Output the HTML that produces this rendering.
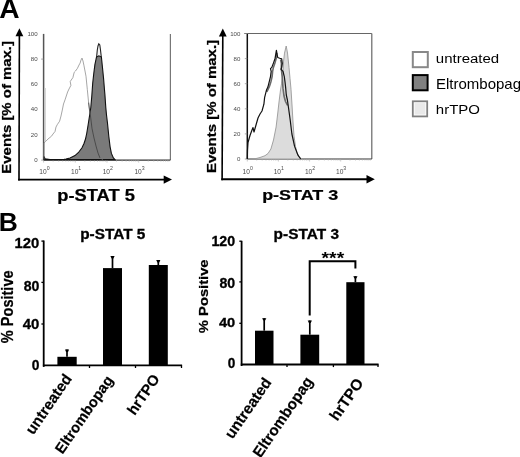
<!DOCTYPE html>
<html><head><meta charset="utf-8"><style>
html,body{margin:0;padding:0;background:#fff;}
svg{display:block;filter:blur(0.35px);}
</style></head><body>
<svg width="520" height="457" viewBox="0 0 520 457" font-family="Liberation Sans, Arial, sans-serif">
<rect width="520" height="457" fill="#fff"/>
<text transform="translate(-0.65 18.47) scale(1.0529 1)" font-size="26.76" font-weight="bold" fill="#000">A</text>
<text transform="translate(-1.15 230.60) scale(0.9952 1)" font-size="26.52" font-weight="bold" fill="#000">B</text>
<line x1="19.0" y1="180.5" x2="19.4" y2="34.2" stroke="#000" stroke-width="1.6"/>
<polygon points="15.499999999999998,36.2 19.4,28.2 23.299999999999997,36.2" fill="#000"/>
<line x1="18.1" y1="179.6" x2="166.0" y2="179.6" stroke="#000" stroke-width="1.9"/>
<polygon points="163.7,175.4 172.0,179.6 163.7,183.79999999999998" fill="#000"/>
<line x1="222.1" y1="180.20000000000002" x2="222.8" y2="34.5" stroke="#000" stroke-width="1.6"/>
<polygon points="218.9,36.5 222.8,28.5 226.70000000000002,36.5" fill="#000"/>
<line x1="221.3" y1="179.3" x2="368.8" y2="179.3" stroke="#000" stroke-width="1.9"/>
<polygon points="366.5,175.10000000000002 374.8,179.3 366.5,183.5" fill="#000"/>
<text transform="translate(11.14 173.64) rotate(-90) scale(1.1786 1)" font-size="12.66" font-weight="bold" fill="#000" stroke="#000" stroke-width="0.25">Events [% of max.]</text>
<text transform="translate(215.62 173.05) rotate(-90) scale(1.1741 1)" font-size="12.77" font-weight="bold" fill="#000" stroke="#000" stroke-width="0.25">Events [% of max.]</text>
<line x1="43.6" y1="33.9" x2="43.6" y2="160.1" stroke="#555" stroke-width="1.5"/>
<line x1="170.4" y1="33.9" x2="170.4" y2="160.1" stroke="#777" stroke-width="1.2"/>
<line x1="43.6" y1="160.1" x2="170.4" y2="160.1" stroke="#333" stroke-width="1.2"/>
<line x1="41.1" y1="160.1" x2="43.6" y2="160.1" stroke="#888" stroke-width="0.7"/>
<line x1="41.1" y1="59.1" x2="43.6" y2="59.1" stroke="#888" stroke-width="0.7"/>
<line x1="43.6" y1="160.1" x2="43.6" y2="162.6" stroke="#aaa" stroke-width="0.6"/>
<line x1="53.1" y1="160.1" x2="53.1" y2="161.6" stroke="#aaa" stroke-width="0.6"/>
<line x1="58.7" y1="160.1" x2="58.7" y2="161.6" stroke="#aaa" stroke-width="0.6"/>
<line x1="62.7" y1="160.1" x2="62.7" y2="161.6" stroke="#aaa" stroke-width="0.6"/>
<line x1="65.8" y1="160.1" x2="65.8" y2="161.6" stroke="#aaa" stroke-width="0.6"/>
<line x1="68.3" y1="160.1" x2="68.3" y2="161.6" stroke="#aaa" stroke-width="0.6"/>
<line x1="70.4" y1="160.1" x2="70.4" y2="161.6" stroke="#aaa" stroke-width="0.6"/>
<line x1="72.2" y1="160.1" x2="72.2" y2="161.6" stroke="#aaa" stroke-width="0.6"/>
<line x1="73.8" y1="160.1" x2="73.8" y2="161.6" stroke="#aaa" stroke-width="0.6"/>
<line x1="75.3" y1="160.1" x2="75.3" y2="162.6" stroke="#aaa" stroke-width="0.6"/>
<line x1="84.8" y1="160.1" x2="84.8" y2="161.6" stroke="#aaa" stroke-width="0.6"/>
<line x1="90.4" y1="160.1" x2="90.4" y2="161.6" stroke="#aaa" stroke-width="0.6"/>
<line x1="94.4" y1="160.1" x2="94.4" y2="161.6" stroke="#aaa" stroke-width="0.6"/>
<line x1="97.5" y1="160.1" x2="97.5" y2="161.6" stroke="#aaa" stroke-width="0.6"/>
<line x1="100.0" y1="160.1" x2="100.0" y2="161.6" stroke="#aaa" stroke-width="0.6"/>
<line x1="102.1" y1="160.1" x2="102.1" y2="161.6" stroke="#aaa" stroke-width="0.6"/>
<line x1="103.9" y1="160.1" x2="103.9" y2="161.6" stroke="#aaa" stroke-width="0.6"/>
<line x1="105.5" y1="160.1" x2="105.5" y2="161.6" stroke="#aaa" stroke-width="0.6"/>
<line x1="107.0" y1="160.1" x2="107.0" y2="162.6" stroke="#aaa" stroke-width="0.6"/>
<line x1="116.5" y1="160.1" x2="116.5" y2="161.6" stroke="#aaa" stroke-width="0.6"/>
<line x1="122.1" y1="160.1" x2="122.1" y2="161.6" stroke="#aaa" stroke-width="0.6"/>
<line x1="126.1" y1="160.1" x2="126.1" y2="161.6" stroke="#aaa" stroke-width="0.6"/>
<line x1="129.2" y1="160.1" x2="129.2" y2="161.6" stroke="#aaa" stroke-width="0.6"/>
<line x1="131.7" y1="160.1" x2="131.7" y2="161.6" stroke="#aaa" stroke-width="0.6"/>
<line x1="133.8" y1="160.1" x2="133.8" y2="161.6" stroke="#aaa" stroke-width="0.6"/>
<line x1="135.6" y1="160.1" x2="135.6" y2="161.6" stroke="#aaa" stroke-width="0.6"/>
<line x1="137.2" y1="160.1" x2="137.2" y2="161.6" stroke="#aaa" stroke-width="0.6"/>
<line x1="138.7" y1="160.1" x2="138.7" y2="162.6" stroke="#aaa" stroke-width="0.6"/>
<line x1="148.2" y1="160.1" x2="148.2" y2="161.6" stroke="#aaa" stroke-width="0.6"/>
<line x1="153.8" y1="160.1" x2="153.8" y2="161.6" stroke="#aaa" stroke-width="0.6"/>
<line x1="157.8" y1="160.1" x2="157.8" y2="161.6" stroke="#aaa" stroke-width="0.6"/>
<line x1="160.9" y1="160.1" x2="160.9" y2="161.6" stroke="#aaa" stroke-width="0.6"/>
<line x1="163.4" y1="160.1" x2="163.4" y2="161.6" stroke="#aaa" stroke-width="0.6"/>
<line x1="165.5" y1="160.1" x2="165.5" y2="161.6" stroke="#aaa" stroke-width="0.6"/>
<line x1="167.3" y1="160.1" x2="167.3" y2="161.6" stroke="#aaa" stroke-width="0.6"/>
<line x1="168.9" y1="160.1" x2="168.9" y2="161.6" stroke="#aaa" stroke-width="0.6"/>
<line x1="45.1" y1="88" x2="45.1" y2="141" stroke="#c8c8c8" stroke-width="1.3"/>
<path d="M96.5,58 L97.3,50 L98,46 L98.8,43.8 L99.8,45 L100.5,50 L101.4,58 Z" fill="#f4f4f4" stroke="#222" stroke-width="1.1"/>
<path d="M44,159.6 L44,156.5 L45,158.8 L50,159.6 L60,159.6 L64,159.4 L66,159 L70,158 L75,155.6 L78.5,152.5 L82,147.8 L84,143.5 L85.5,139 L86.8,133 L88.1,125 L89.5,116 L90.8,107.5 L91.8,96 L92.7,83.2 L93.8,73.3 L94.9,64.6 L96.5,57 L98.9,55.8 L101.4,57 L102.5,67.8 L103.6,78.8 L104.5,90 L104.9,94.5 L105.8,107.6 L106.5,115 L107.5,123.2 L108.8,136.3 L110.1,146.8 L111.4,153.4 L113.4,158 L115,159.6 Z" fill="#7a7a7a" stroke="#111" stroke-width="1.1"/>
<path d="M44,159.5 L44,143 L45.8,141.3 L48,139 L51.5,136.2 L53,134 L55,131.5 L56,127 L57.3,124.6 L59.6,121.2 L61,116 L62.3,110 L63.5,104 L65,99.9 L67.6,92 L69,89 L70.9,85.4 L70.2,81.5 L72.9,77.6 L74.2,72.3 L75.5,71 L77.4,68.4 L79,65 L80.1,63.1 L81,60 L82,58.1 L83,61 L84,65.8 L86,76.3 L87.3,89.4 L88.6,102.5 L89.5,110 L90.5,116 L92,128.5 L94,138 L96,146 L98,153 L100,158 L103,159.5" fill="none" stroke="#808080" stroke-width="0.7"/>
<path d="M88.6,102.5 L89.5,110 L90.5,116 L92,128.5 L94,138 L96,146 L98,153 L100,158" fill="none" stroke="#333" stroke-width="0.7"/>
<text x="37.6" y="161.9" font-size="6.1" text-anchor="end" fill="#4a4a4a">0</text>
<text x="37.6" y="136.7" font-size="6.1" text-anchor="end" fill="#4a4a4a">20</text>
<text x="37.6" y="111.4" font-size="6.1" text-anchor="end" fill="#4a4a4a">40</text>
<text x="37.6" y="86.2" font-size="6.1" text-anchor="end" fill="#4a4a4a">60</text>
<text x="37.6" y="60.9" font-size="6.1" text-anchor="end" fill="#4a4a4a">80</text>
<text x="37.6" y="35.7" font-size="6.1" text-anchor="end" fill="#4a4a4a">100</text>
<text x="39.3" y="173.8" font-size="6.6" fill="#4a4a4a">10<tspan dy="-3.9" font-size="5.2">0</tspan></text>
<text x="71.0" y="173.8" font-size="6.6" fill="#4a4a4a">10<tspan dy="-3.9" font-size="5.2">1</tspan></text>
<text x="102.7" y="173.8" font-size="6.6" fill="#4a4a4a">10<tspan dy="-3.9" font-size="5.2">2</tspan></text>
<text x="134.4" y="173.8" font-size="6.6" fill="#4a4a4a">10<tspan dy="-3.9" font-size="5.2">3</tspan></text>
<text transform="translate(57.32 200.67) scale(1.0890 1)" font-size="16.81" font-weight="bold" fill="#000" stroke="#000" stroke-width="0.25">p-STAT 5</text>
<line x1="247.3" y1="33.5" x2="247.3" y2="159.0" stroke="#111" stroke-width="1.5"/>
<line x1="371.8" y1="33.5" x2="371.8" y2="159.0" stroke="#666" stroke-width="1.2"/>
<line x1="247.3" y1="159.0" x2="371.8" y2="159.0" stroke="#333" stroke-width="1.2"/>
<line x1="244.3" y1="33.5" x2="371.8" y2="33.5" stroke="#666" stroke-width="1.2"/>
<line x1="244.8" y1="159.0" x2="247.3" y2="159.0" stroke="#888" stroke-width="0.7"/>
<line x1="244.8" y1="133.9" x2="247.3" y2="133.9" stroke="#888" stroke-width="0.7"/>
<line x1="244.8" y1="108.8" x2="247.3" y2="108.8" stroke="#888" stroke-width="0.7"/>
<line x1="244.8" y1="83.7" x2="247.3" y2="83.7" stroke="#888" stroke-width="0.7"/>
<line x1="244.8" y1="58.6" x2="247.3" y2="58.6" stroke="#888" stroke-width="0.7"/>
<line x1="244.8" y1="33.5" x2="247.3" y2="33.5" stroke="#888" stroke-width="0.7"/>
<line x1="247.3" y1="159.0" x2="247.3" y2="161.5" stroke="#aaa" stroke-width="0.6"/>
<line x1="256.7" y1="159.0" x2="256.7" y2="160.5" stroke="#aaa" stroke-width="0.6"/>
<line x1="262.2" y1="159.0" x2="262.2" y2="160.5" stroke="#aaa" stroke-width="0.6"/>
<line x1="266.0" y1="159.0" x2="266.0" y2="160.5" stroke="#aaa" stroke-width="0.6"/>
<line x1="269.1" y1="159.0" x2="269.1" y2="160.5" stroke="#aaa" stroke-width="0.6"/>
<line x1="271.5" y1="159.0" x2="271.5" y2="160.5" stroke="#aaa" stroke-width="0.6"/>
<line x1="273.6" y1="159.0" x2="273.6" y2="160.5" stroke="#aaa" stroke-width="0.6"/>
<line x1="275.4" y1="159.0" x2="275.4" y2="160.5" stroke="#aaa" stroke-width="0.6"/>
<line x1="277.0" y1="159.0" x2="277.0" y2="160.5" stroke="#aaa" stroke-width="0.6"/>
<line x1="278.4" y1="159.0" x2="278.4" y2="161.5" stroke="#aaa" stroke-width="0.6"/>
<line x1="287.8" y1="159.0" x2="287.8" y2="160.5" stroke="#aaa" stroke-width="0.6"/>
<line x1="293.3" y1="159.0" x2="293.3" y2="160.5" stroke="#aaa" stroke-width="0.6"/>
<line x1="297.2" y1="159.0" x2="297.2" y2="160.5" stroke="#aaa" stroke-width="0.6"/>
<line x1="300.2" y1="159.0" x2="300.2" y2="160.5" stroke="#aaa" stroke-width="0.6"/>
<line x1="302.6" y1="159.0" x2="302.6" y2="160.5" stroke="#aaa" stroke-width="0.6"/>
<line x1="304.7" y1="159.0" x2="304.7" y2="160.5" stroke="#aaa" stroke-width="0.6"/>
<line x1="306.5" y1="159.0" x2="306.5" y2="160.5" stroke="#aaa" stroke-width="0.6"/>
<line x1="308.1" y1="159.0" x2="308.1" y2="160.5" stroke="#aaa" stroke-width="0.6"/>
<line x1="309.6" y1="159.0" x2="309.6" y2="161.5" stroke="#aaa" stroke-width="0.6"/>
<line x1="318.9" y1="159.0" x2="318.9" y2="160.5" stroke="#aaa" stroke-width="0.6"/>
<line x1="324.4" y1="159.0" x2="324.4" y2="160.5" stroke="#aaa" stroke-width="0.6"/>
<line x1="328.3" y1="159.0" x2="328.3" y2="160.5" stroke="#aaa" stroke-width="0.6"/>
<line x1="331.3" y1="159.0" x2="331.3" y2="160.5" stroke="#aaa" stroke-width="0.6"/>
<line x1="333.8" y1="159.0" x2="333.8" y2="160.5" stroke="#aaa" stroke-width="0.6"/>
<line x1="335.9" y1="159.0" x2="335.9" y2="160.5" stroke="#aaa" stroke-width="0.6"/>
<line x1="337.7" y1="159.0" x2="337.7" y2="160.5" stroke="#aaa" stroke-width="0.6"/>
<line x1="339.3" y1="159.0" x2="339.3" y2="160.5" stroke="#aaa" stroke-width="0.6"/>
<line x1="340.7" y1="159.0" x2="340.7" y2="161.5" stroke="#aaa" stroke-width="0.6"/>
<line x1="350.0" y1="159.0" x2="350.0" y2="160.5" stroke="#aaa" stroke-width="0.6"/>
<line x1="355.5" y1="159.0" x2="355.5" y2="160.5" stroke="#aaa" stroke-width="0.6"/>
<line x1="359.4" y1="159.0" x2="359.4" y2="160.5" stroke="#aaa" stroke-width="0.6"/>
<line x1="362.4" y1="159.0" x2="362.4" y2="160.5" stroke="#aaa" stroke-width="0.6"/>
<line x1="364.9" y1="159.0" x2="364.9" y2="160.5" stroke="#aaa" stroke-width="0.6"/>
<line x1="367.0" y1="159.0" x2="367.0" y2="160.5" stroke="#aaa" stroke-width="0.6"/>
<line x1="368.8" y1="159.0" x2="368.8" y2="160.5" stroke="#aaa" stroke-width="0.6"/>
<line x1="370.4" y1="159.0" x2="370.4" y2="160.5" stroke="#aaa" stroke-width="0.6"/>
<path d="M250,159 L255,158.8 L260,157.5 L265,155.7 L268,153.5 L270.9,149 L273.5,140 L276.1,127 L277.9,112 L279,102 L280.5,90 L281.5,83.8 L283,72.8 L283.5,61.9 L284.5,53.1 L286.2,46 L287.5,53 L289,67.4 L290,78.3 L291,89.2 L292,105 L293,122 L294,136 L295.5,146.4 L297,153 L299,157 L302,159 Z" fill="#dcdcdc" stroke="#999" stroke-width="0.9"/>
<path d="M266.8,92 L268.3,89 L269.6,86 L270.9,81.8 L272.1,76.6 L272.6,71.3 L273.4,67.4 L275.1,62.4 L276.2,58.5 L276.8,53 M280.6,59.5 L281.4,63.4 L281.3,68.5 L282.3,77.9 L283,88.4 L284,96 L285.5,101.5 L287.6,105.5" fill="none" stroke="#6a6a6a" stroke-width="1.6" stroke-linejoin="round"/>
<path d="M247.3,159 L247.5,150 L248,142.5 L250,135.5 L252,130 L253,127.6 L254,132 L256,125 L258,118 L260,114 L262,111 L263.9,104.2 L264.6,97.6 L265.9,92.4 L266.6,89.7 L267.9,87.1 L269.2,81.8 L270.5,76.6 L271.2,71.3 L270.5,68.7 L271.8,67.4 L273.8,62.1 L275.1,58.2 L276.4,50.3 L277.7,57.5 L279.7,58.2 L281.7,58.8 L282.3,63.4 L281.7,67.4 L281,69.3 L283,71.3 L284.3,76.6 L285,81.8 L285.6,87.1 L286.3,95 L287.4,100 L288.4,107 L290.2,120 L291.9,134 L294.6,146.4 L298,155.2 L300.7,159" fill="none" stroke="#111" stroke-width="1.2" stroke-linejoin="round"/>
<text x="240.3" y="161.4" font-size="6.1" text-anchor="end" fill="#4a4a4a">0</text>
<text x="240.3" y="136.3" font-size="6.1" text-anchor="end" fill="#4a4a4a">20</text>
<text x="240.3" y="111.2" font-size="6.1" text-anchor="end" fill="#4a4a4a">40</text>
<text x="240.3" y="86.1" font-size="6.1" text-anchor="end" fill="#4a4a4a">60</text>
<text x="240.3" y="61.0" font-size="6.1" text-anchor="end" fill="#4a4a4a">80</text>
<text x="240.3" y="35.9" font-size="6.1" text-anchor="end" fill="#4a4a4a">100</text>
<text x="242.6" y="173.7" font-size="6.6" fill="#4a4a4a">10<tspan dy="-3.9" font-size="5.2">0</tspan></text>
<text x="273.7" y="173.7" font-size="6.6" fill="#4a4a4a">10<tspan dy="-3.9" font-size="5.2">1</tspan></text>
<text x="304.9" y="173.7" font-size="6.6" fill="#4a4a4a">10<tspan dy="-3.9" font-size="5.2">2</tspan></text>
<text x="336.0" y="173.7" font-size="6.6" fill="#4a4a4a">10<tspan dy="-3.9" font-size="5.2">3</tspan></text>
<text transform="translate(262.14 200.14) scale(1.1934 1)" font-size="15.05" font-weight="bold" fill="#000" stroke="#000" stroke-width="0.25">p-STAT 3</text>
<rect x="412.8" y="52" width="15" height="15.2" fill="#fff" stroke="#888" stroke-width="2"/>
<rect x="412.8" y="75.1" width="14.8" height="15.2" fill="#808080" stroke="#000" stroke-width="2"/>
<rect x="412.8" y="101.3" width="14.4" height="15.1" fill="#fff" stroke="#808080" stroke-width="1.8"/><rect x="414.6" y="103.1" width="10.8" height="11.5" fill="#e9e9e9"/>
<text transform="translate(435.85 62.88) scale(1.2188 1)" font-size="12.30" font-weight="normal" fill="#000">untreated</text>
<text transform="translate(435.85 114.36) scale(1.0977 1)" font-size="13.65" font-weight="normal" fill="#000">hrTPO</text>
<text transform="translate(435.9 88.9) scale(1.058 1)" font-size="14.2" fill="#000">Eltrombopag</text>
<line x1="43.7" y1="240.5" x2="43.7" y2="366.9" stroke="#000" stroke-width="1.8"/>
<line x1="42.900000000000006" y1="365.4" x2="182.1" y2="365.4" stroke="#000" stroke-width="1.9"/>
<line x1="41.400000000000006" y1="241.1" x2="43.7" y2="241.1" stroke="#000" stroke-width="1.3"/>
<line x1="41.400000000000006" y1="282.4" x2="43.7" y2="282.4" stroke="#000" stroke-width="1.3"/>
<line x1="41.400000000000006" y1="324.0" x2="43.7" y2="324.0" stroke="#000" stroke-width="1.3"/>
<line x1="89.5" y1="365.4" x2="89.5" y2="368.0" stroke="#000" stroke-width="1.3"/>
<line x1="135.5" y1="365.4" x2="135.5" y2="368.0" stroke="#000" stroke-width="1.3"/>
<line x1="181.5" y1="365.4" x2="181.5" y2="368.0" stroke="#000" stroke-width="1.3"/>
<rect x="57.4" y="356.8" width="19.3" height="8.6" fill="#000"/>
<line x1="67.0" y1="356.8" x2="67.0" y2="349.5" stroke="#000" stroke-width="1.7"/>
<polygon points="65.0,349.5 69.1,349.5 68.0,351.9 66.1,351.9" fill="#000"/>
<rect x="103" y="268.1" width="19.0" height="97.3" fill="#000"/>
<line x1="112.5" y1="268.1" x2="112.5" y2="256.1" stroke="#000" stroke-width="1.7"/>
<polygon points="110.4,256.1 114.6,256.1 113.4,258.5 111.6,258.5" fill="#000"/>
<rect x="148.8" y="265.0" width="19.0" height="100.4" fill="#000"/>
<line x1="158.3" y1="265.0" x2="158.3" y2="260.1" stroke="#000" stroke-width="1.7"/>
<polygon points="156.2,260.1 160.4,260.1 159.2,262.5 157.4,262.5" fill="#000"/>
<text transform="translate(14.61 247.85) scale(1.0035 1)" font-size="14.79" font-weight="bold" fill="#000" stroke="#000" stroke-width="0.3">120</text>
<text transform="translate(23.68 290.66) scale(0.9839 1)" font-size="14.37" font-weight="bold" fill="#000" stroke="#000" stroke-width="0.3">80</text>
<text transform="translate(22.80 328.65) scale(1.0111 1)" font-size="14.79" font-weight="bold" fill="#000" stroke="#000" stroke-width="0.3">40</text>
<text transform="translate(31.75 370.36) scale(1.0020 1)" font-size="13.80" font-weight="bold" fill="#000" stroke="#000" stroke-width="0.3">0</text>
<text transform="translate(80.22 239.23) scale(1.0511 1)" font-size="14.62" font-weight="bold" fill="#000" stroke="#000" stroke-width="0.3">p-STAT 5</text>
<text transform="translate(13.24 343.14) rotate(-90) scale(0.9127 1)" font-size="15.95" font-weight="bold" fill="#000" stroke="#000" stroke-width="0.25">% Positive</text>
<line x1="241.6" y1="240.79999999999998" x2="241.6" y2="366.0" stroke="#000" stroke-width="1.8"/>
<line x1="240.79999999999998" y1="364.5" x2="378.6" y2="364.5" stroke="#000" stroke-width="1.9"/>
<line x1="239.29999999999998" y1="241.2" x2="241.6" y2="241.2" stroke="#000" stroke-width="1.3"/>
<line x1="239.29999999999998" y1="281.9" x2="241.6" y2="281.9" stroke="#000" stroke-width="1.3"/>
<line x1="239.29999999999998" y1="323.3" x2="241.6" y2="323.3" stroke="#000" stroke-width="1.3"/>
<line x1="287" y1="364.5" x2="287" y2="367.1" stroke="#000" stroke-width="1.3"/>
<line x1="333.4" y1="364.5" x2="333.4" y2="367.1" stroke="#000" stroke-width="1.3"/>
<line x1="378" y1="364.5" x2="378" y2="367.1" stroke="#000" stroke-width="1.3"/>
<rect x="255.0" y="330.7" width="18.5" height="33.8" fill="#000"/>
<line x1="264.2" y1="330.7" x2="264.2" y2="318.2" stroke="#000" stroke-width="1.7"/>
<polygon points="262.1,318.2 266.4,318.2 265.1,320.6 263.4,320.6" fill="#000"/>
<rect x="300.4" y="334.7" width="18.8" height="29.8" fill="#000"/>
<line x1="309.8" y1="334.7" x2="309.8" y2="320.5" stroke="#000" stroke-width="1.7"/>
<polygon points="307.7,320.5 311.9,320.5 310.7,322.9 308.9,322.9" fill="#000"/>
<rect x="346.3" y="282.2" width="18.2" height="82.3" fill="#000"/>
<line x1="355.4" y1="282.2" x2="355.4" y2="276.2" stroke="#000" stroke-width="1.7"/>
<polygon points="353.3,276.2 357.5,276.2 356.3,278.6 354.5,278.6" fill="#000"/>
<text transform="translate(211.45 245.66) scale(1.0187 1)" font-size="13.94" font-weight="bold" fill="#000" stroke="#000" stroke-width="0.3">120</text>
<text transform="translate(219.48 287.66) scale(1.0240 1)" font-size="13.80" font-weight="bold" fill="#000" stroke="#000" stroke-width="0.3">80</text>
<text transform="translate(218.91 326.67) scale(1.0961 1)" font-size="13.38" font-weight="bold" fill="#000" stroke="#000" stroke-width="0.3">40</text>
<text transform="translate(227.86 368.36) scale(0.9865 1)" font-size="13.80" font-weight="bold" fill="#000" stroke="#000" stroke-width="0.3">0</text>
<text transform="translate(273.62 239.48) scale(1.0397 1)" font-size="14.84" font-weight="bold" fill="#000" stroke="#000" stroke-width="0.3">p-STAT 3</text>
<text transform="translate(208.16 333.14) rotate(-90) scale(1.0920 1)" font-size="13.51" font-weight="bold" fill="#000" stroke="#000" stroke-width="0.25">% Positive</text>
<text transform="translate(72.5 378.5) rotate(-55.5)" font-size="15.2" font-weight="bold" text-anchor="end" stroke="#000" stroke-width="0.2">untreated</text>
<text transform="translate(113.8 380.0) rotate(-55.5)" font-size="14.7" font-weight="bold" text-anchor="end" stroke="#000" stroke-width="0.2">Eltrombopag</text>
<text transform="translate(160.3 378.8) rotate(-55.5)" font-size="14.8" font-weight="bold" text-anchor="end" stroke="#000" stroke-width="0.2">hrTPO</text>
<text transform="translate(272.0 382.3) rotate(-55.5)" font-size="15.3" font-weight="bold" text-anchor="end" stroke="#000" stroke-width="0.2">untreated</text>
<text transform="translate(313.5 381.3) rotate(-55.5)" font-size="15.2" font-weight="bold" text-anchor="end" stroke="#000" stroke-width="0.2">Eltrombopag</text>
<text transform="translate(364.0 383.0) rotate(-55.5)" font-size="15.4" font-weight="bold" text-anchor="end" stroke="#000" stroke-width="0.2">hrTPO</text>
<path d="M309.7,315.4 L309.7,261.2 L355.4,261.2 L355.4,268.5" fill="none" stroke="#000" stroke-width="2"/>
<text transform="translate(321.60 264.40) scale(1.2110 1)" font-size="15.95" font-weight="bold" fill="#000">***</text>
</svg>
</body></html>
